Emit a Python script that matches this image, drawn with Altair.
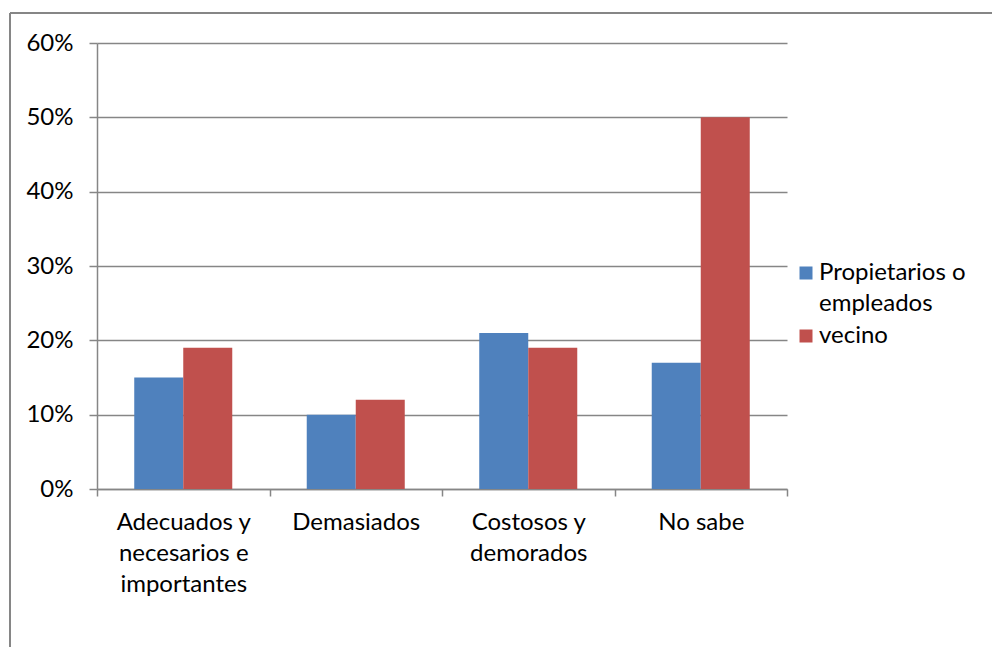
import altair as alt
import pandas as pd

categories = ["Adecuados y|necesarios e|importantes", "Demasiados", "Costosos y|demorados", "No sabe"]
series = ["Propietarios o empleados", "vecino"]
propietarios = [0.15, 0.10, 0.21, 0.17]
vecino = [0.19, 0.12, 0.19, 0.50]
colors = ["#4F81BD", "#C0504D"]

rows = []
for i, c in enumerate(categories):
    rows.append({"cat": c, "serie": series[0], "val": propietarios[i]})
    rows.append({"cat": c, "serie": series[1], "val": vecino[i]})
df = pd.DataFrame(rows)

FONT = "Lato"
GRAY = "#868686"
FS = 24

bars = alt.Chart(df).mark_bar().encode(
    x=alt.X("cat:N", sort=categories, title=None,
            scale=alt.Scale(paddingInner=0, paddingOuter=0),
            axis=alt.Axis(labelExpr="split(datum.label, '|')", labelAngle=0,
                          labelFont=FONT, labelFontSize=FS, labelColor="#000",
                          labelLineHeight=31, labelPadding=14,
                          tickBand="extent", tickSize=7, tickColor=GRAY, tickWidth=1.5,
                          domainColor=GRAY, domainWidth=1.5, grid=False)),
    xOffset=alt.XOffset("serie:N", sort=series,
                        scale=alt.Scale(paddingInner=0, paddingOuter=0.76)),
    y=alt.Y("val:Q", title=None,
            scale=alt.Scale(domain=[0, 0.6], nice=False),
            axis=alt.Axis(values=[0, 0.1, 0.2, 0.3, 0.4, 0.5, 0.6], format=".0%",
                          labelFont=FONT, labelFontSize=FS, labelColor="#000", labelPadding=16,
                          tickSize=8, tickColor=GRAY, tickWidth=1.5,
                          domainColor=GRAY, domainWidth=1.5,
                          grid=True, gridColor=GRAY, gridWidth=1.5)),
    color=alt.Color("serie:N", sort=series,
                    scale=alt.Scale(domain=series, range=colors),
                    legend=alt.Legend(title=None, orient="none", legendX=697, legendY=218,
                                      labelExpr="datum.label == 'Propietarios o empleados' ? ['Propietarios o', 'empleados'] : datum.label",
                                      labelFont=FONT, labelFontSize=FS, labelColor="#000",
                                      labelLimit=300,
                                      symbolType="square", symbolSize=169, symbolStrokeWidth=0,
                                      rowPadding=8, labelOffset=1)),
)

frame_data = alt.Data(values=[{"k": 1}])
left_rule = alt.Chart(frame_data).mark_rule(color=GRAY, strokeWidth=2).encode(
    x=alt.value(-87), y=alt.value(-30), y2=alt.value(700))
top_rule = alt.Chart(frame_data).mark_rule(color=GRAY, strokeWidth=2).encode(
    x=alt.value(-87), x2=alt.value(920), y=alt.value(-30))

chart = alt.layer(bars, left_rule, top_rule).properties(
    width=690, height=446,
    autosize=alt.AutoSizeParams(type="none"),
    padding={"left": 89, "top": 35, "right": 205, "bottom": 180},
).configure(style={"guide-label": {"lineHeight": 31}}).configure_view(stroke=None)

chart.save("out.html", embed_options={"renderer": "svg", "actions": False})
